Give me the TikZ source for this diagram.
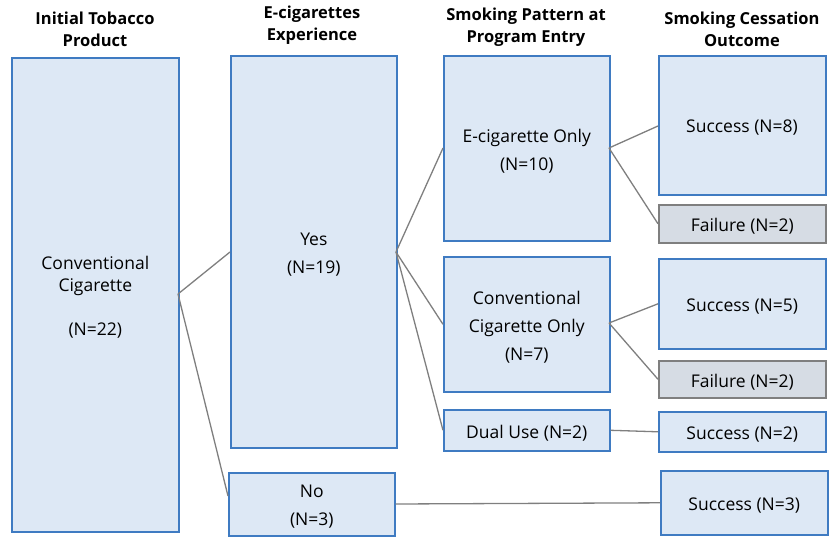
\documentclass[tikz,border=0pt]{standalone}
\usepackage{fontspec}
\setmainfont{Open Sans}
\definecolor{boxfill}{HTML}{DDE8F5}
\definecolor{boxline}{HTML}{3F7BC2}
\definecolor{failfill}{HTML}{D6DCE4}
\definecolor{failline}{HTML}{7F7F7F}
\definecolor{conn}{HTML}{7F7F7F}
\tikzset{
  box/.style={draw=boxline, fill=boxfill, line width=1.6pt, anchor=north west, inner sep=0pt},
  failbox/.style={box, draw=failline, fill=failfill},
  txt/.style={label={[lbl, align=center, yshift=-2.5pt]center:#1}},
  head/.style={align=center, font=\bfseries\fontsize{16.5}{22}\selectfont},
  conn/.style={draw=conn, line width=1.3pt},
  lbl/.style={font=\fontsize{17.5}{28}\selectfont}
}
\begin{document}
\begin{tikzpicture}[x=1pt,y=-1pt]
\useasboundingbox (0,0) rectangle (830,537);
% headers
\node[head] (h1) at (95,29) {Initial Tobacco\\Product};
\node[head] (h2) at (312,25) {E-cigarettes\\Experience};
\node[head] (h3) at (526,27) {Smoking Pattern at\\Program Entry};
\node[head] (h4) at (742,29) {Smoking Cessation\\Outcome};
% column 1
\node[box, minimum width=167, minimum height=474,
  label={[font=\fontsize{17.5}{22}\selectfont, align=center, yshift=-2.5pt]center:Conventional\\Cigarette\\[22pt](N=22)}] (init) at (11,57) {};
% column 2
\node[box, minimum width=166, minimum height=392, txt={Yes\\(N=19)}] (yes) at (230,55) {};
\node[box, minimum width=166, minimum height=63, txt={No\\(N=3)}] (no) at (228,472) {};
% column 3
\node[box, minimum width=166, minimum height=185, txt={E-cigarette Only\\(N=10)}] (ecig) at (443,55) {};
\node[box, minimum width=166, minimum height=135, txt={Conventional\\Cigarette Only\\(N=7)}] (conv) at (443,256) {};
\node[box, minimum width=166, minimum height=41, txt={Dual Use (N=2)}] (dual) at (443,409) {};
% column 4
\node[box, minimum width=167, minimum height=139] (s8) at (658,55) {};
\node[lbl] (s8t) at (742,128) {Success (N=8)};
\node[failbox, minimum width=167, minimum height=38, txt={Failure (N=2)}] (f1) at (658,204) {};
\node[box, minimum width=167, minimum height=90, txt={Success (N=5)}] (s5) at (658,258) {};
\node[failbox, minimum width=167, minimum height=37, txt={Failure (N=2)}] (f2) at (658,360) {};
\node[box, minimum width=167, minimum height=40, txt={Success (N=2)}] (s2) at (658,411) {};
\node[box, minimum width=167, minimum height=64, txt={Success (N=3)}] (s3) at (660,470) {};
% connectors
\coordinate (initR) at (178,294);
\coordinate (yesR) at (396,252);
\coordinate (ecigR) at (609,148);
\coordinate (convR) at (609,323);
\draw[conn] (initR) -- (yes.west |- 0,252);
\draw[conn] (initR) -- (no.west |- 0,496);
\draw[conn] (yesR) -- (ecig.west |- 0,148);
\draw[conn] (yesR) -- (conv.west);
\draw[conn] (yesR) -- (dual.west);
\draw[conn] (ecigR) -- (s8.west |- 0,126);
\draw[conn] (ecigR) -- (f1.west);
\draw[conn] (convR) -- (s5.west);
\draw[conn] (convR) -- (f2.west);
\draw[conn] (dual.east) -- (s2.west);
\draw[conn] (no.east |- 0,504) -- (s3.west);
\end{tikzpicture}
\end{document}
